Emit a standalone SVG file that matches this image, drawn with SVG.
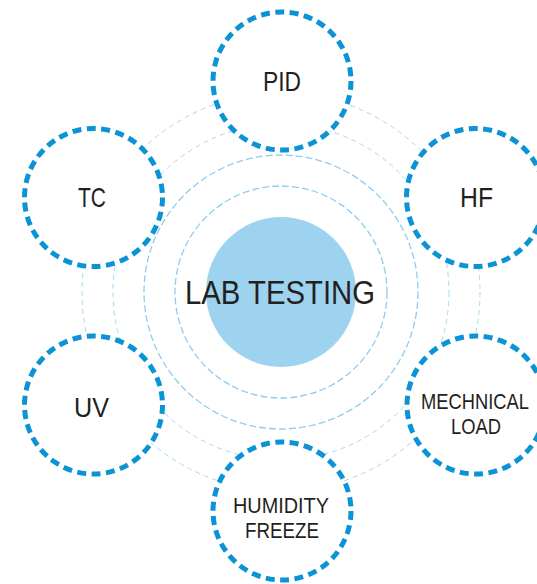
<svg xmlns="http://www.w3.org/2000/svg" width="537" height="584" viewBox="0 0 537 584">
  <style>
    .ring-in { fill: none; stroke: #8fcdee; stroke-width: 1.3; stroke-dasharray: 7 3; }
    .ring-out { fill: none; stroke: #a8d8f2; stroke-width: 1; stroke-dasharray: 5 4; }
    .node { fill: #ffffff; stroke: #0b93d5; stroke-width: 5; stroke-dasharray: 9 5.45; }
    .lbl { font-family: "Liberation Sans", Arial, sans-serif; fill: #231f20; }
    .big { font-size: 28px; }
    .small { font-size: 22px; }
  </style>
  <rect width="537" height="584" fill="#ffffff"/>
  <g id="connectors">
    <circle class="ring-out" cx="281" cy="292" r="199"/>
    <circle class="ring-out" cx="281" cy="292" r="168"/>
    <circle class="ring-in" cx="281" cy="292" r="137"/>
    <circle class="ring-in" cx="281" cy="292" r="106"/>
  </g>
  <g id="center">
    <circle cx="281" cy="292" r="75" fill="#9ed3ef"/>
    <text class="lbl" x="185" y="304" font-size="33" textLength="190" lengthAdjust="spacingAndGlyphs">LAB TESTING</text>
  </g>
  <g id="pid">
    <circle class="node" cx="282" cy="81" r="69"/>
    <text class="lbl big" x="263" y="91" textLength="38" lengthAdjust="spacingAndGlyphs">PID</text>
  </g>
  <g id="tc">
    <circle class="node" cx="93.5" cy="197.5" r="69"/>
    <text class="lbl big" x="78" y="207" textLength="28" lengthAdjust="spacingAndGlyphs">TC</text>
  </g>
  <g id="hf">
    <circle class="node" cx="475.5" cy="197.5" r="69"/>
    <text class="lbl big" x="460" y="207" textLength="33" lengthAdjust="spacingAndGlyphs">HF</text>
  </g>
  <g id="uv">
    <circle class="node" cx="93.5" cy="405" r="69"/>
    <text class="lbl big" x="74" y="417" textLength="35" lengthAdjust="spacingAndGlyphs">UV</text>
  </g>
  <g id="mechnical-load">
    <circle class="node" cx="476" cy="405" r="69"/>
    <text class="lbl small" transform="translate(421 409) scale(0.833 1)" x="0" y="0">MECHNICAL</text>
    <text class="lbl small" x="451" y="434" textLength="50" lengthAdjust="spacingAndGlyphs">LOAD</text>
  </g>
  <g id="humidity-freeze">
    <circle class="node" cx="282" cy="511" r="69"/>
    <text class="lbl small" x="233" y="513" textLength="96" lengthAdjust="spacingAndGlyphs">HUMIDITY</text>
    <text class="lbl small" x="245" y="538" textLength="74" lengthAdjust="spacingAndGlyphs">FREEZE</text>
  </g>
</svg>
